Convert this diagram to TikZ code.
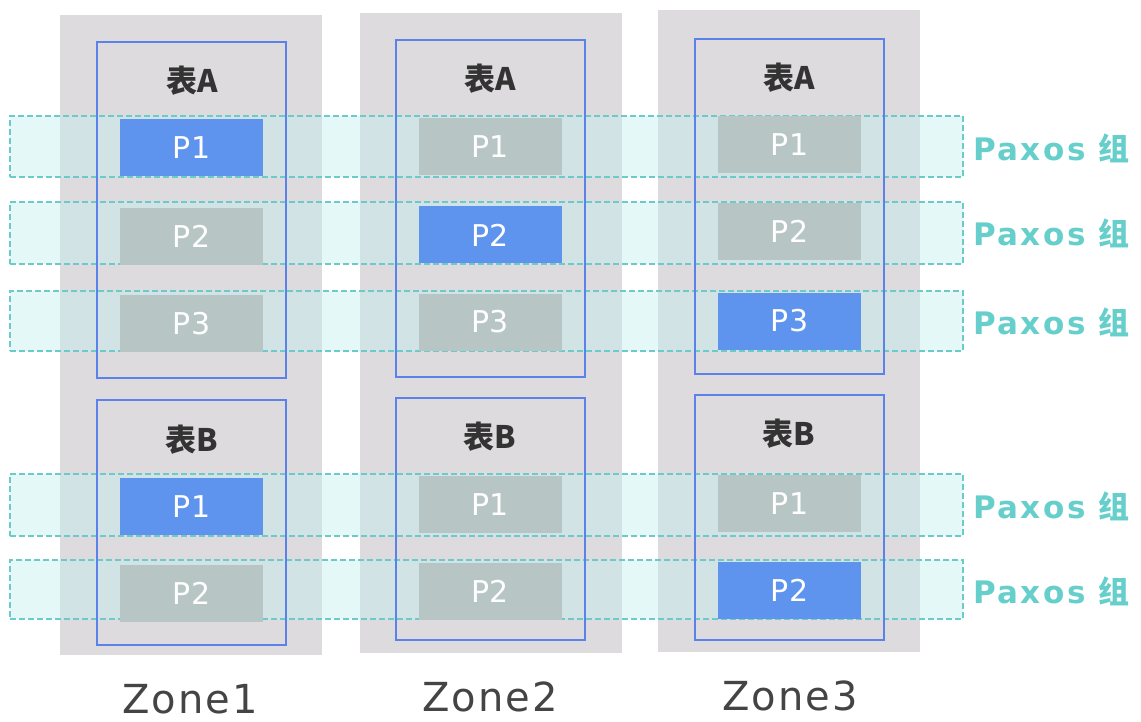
\documentclass[tikz,border=0pt]{standalone}
\usepackage{fontspec}
\setmainfont{DejaVu Sans}
\newfontfamily\cjk{Noto Sans CJK SC}
\newfontfamily\zonefont{DejaVu Sans}[LetterSpace=5]
\newfontfamily\paxfont{DejaVu Sans}[LetterSpace=8]
\newfontfamily\cjkpax{Noto Sans CJK SC}[LetterSpace=8]
\definecolor{colgray}{HTML}{DDDBDD}
\definecolor{tblue}{HTML}{5B82EB}
\definecolor{pgray}{HTML}{B7C6C5}
\definecolor{pblue}{HTML}{5E94EE}
\definecolor{bandfill}{HTML}{BFEFEF}
\definecolor{bandline}{HTML}{6BCBCB}
\definecolor{paxos}{HTML}{66CFCB}
\definecolor{zonetext}{HTML}{444444}
\definecolor{tbltext}{HTML}{333333}
\tikzset{
  zonecol/.style={fill=colgray, draw=none, minimum width=262pt, inner sep=0pt},
  tblbox/.style={draw=tblue, line width=1.8pt, minimum width=189pt, inner sep=0pt},
  pbox/.style={minimum width=143pt, minimum height=57pt, inner sep=0pt, text=white,
     font=\fontsize{30}{34}\selectfont},
  pg/.style={pbox, fill=pgray},
  pb/.style={pbox, fill=pblue},
  tbllabel/.style={text=tbltext, font=\fontsize{31}{34}\selectfont\bfseries\cjk, inner sep=0pt},
  band/.style={fill=bandfill, fill opacity=0.4, draw=bandline, draw opacity=1, line width=1.2pt,
     dash pattern=on 6pt off 3pt, minimum width=953pt, inner sep=0pt},
  paxlabel/.style={anchor=west, text=paxos, inner sep=0pt, font=\fontsize{31}{34}\selectfont\bfseries\paxfont},
  zonelabel/.style={text=zonetext, inner sep=0pt, font=\fontsize{40}{44}\selectfont\zonefont}
}
\begin{document}
\begin{tikzpicture}[x=1pt, y=-1pt]
\useasboundingbox[fill=white] (0,0) rectangle (1141,722);
% zone columns
\node[zonecol, minimum height=640pt] (z1) at (191,335) {};
\node[zonecol, minimum height=640pt] (z2) at (491,333) {};
\node[zonecol, minimum height=642pt] (z3) at (789,331) {};
% paxos bands
\node[band, minimum height=61pt] (g1) at (486.5,146.5) {};
\node[band, minimum height=62pt] (g2) at (486.5,233) {};
\node[band, minimum height=60pt] (g3) at (486.5,321) {};
\node[band, minimum height=62pt] (g4) at (486.5,505) {};
\node[band, minimum height=59pt] (g5) at (486.5,589.5) {};
% table boxes
\node[tblbox, minimum height=336pt] (z1a) at (191.5,210) {};
\node[tblbox, minimum height=245pt] (z1b) at (191.5,522.5) {};
\node[tblbox, minimum height=337pt] (z2a) at (490.5,208.5) {};
\node[tblbox, minimum height=242pt] (z2b) at (490.5,519) {};
\node[tblbox, minimum height=335pt] (z3a) at (789.5,206.5) {};
\node[tblbox, minimum height=245pt] (z3b) at (789.5,517.5) {};
% table labels
\node[tbllabel] (l1a) at (192,81) {表A};
\node[tbllabel] (l1b) at (192,440) {表B};
\node[tbllabel] (l2a) at (490,79) {表A};
\node[tbllabel] (l2b) at (490,437) {表B};
\node[tbllabel] (l3a) at (789,78) {表A};
\node[tbllabel] (l3b) at (789,434) {表B};
% partitions zone1
\node[pb] (p1a1) at (191.5,148) {P1};
\node[pg] (p1a2) at (191.5,236.5) {P2};
\node[pg] (p1a3) at (191.5,323.5) {P3};
\node[pb] (p1b1) at (191.5,506.5) {P1};
\node[pg] (p1b2) at (191.5,593.5) {P2};
% zone2
\node[pg] (p2a1) at (490,147) {P1};
\node[pb] (p2a2) at (490,235) {P2};
\node[pg] (p2a3) at (490,322) {P3};
\node[pg] (p2b1) at (490,504.5) {P1};
\node[pg] (p2b2) at (490,591) {P2};
% zone3
\node[pg] (p3a1) at (789.5,145) {P1};
\node[pg] (p3a2) at (789.5,231.5) {P2};
\node[pb] (p3a3) at (789.5,321) {P3};
\node[pg] (p3b1) at (789.5,503.5) {P1};
\node[pb] (p3b2) at (789.5,590) {P2};
% paxos labels
\node[paxlabel] (t1) at (973,148) {Paxos {\bfseries\cjkpax 组}};
\node[paxlabel] (t2) at (973,233) {Paxos {\bfseries\cjkpax 组}};
\node[paxlabel] (t3) at (973,322) {Paxos {\bfseries\cjkpax 组}};
\node[paxlabel] (t4) at (973,506) {Paxos {\bfseries\cjkpax 组}};
\node[paxlabel] (t5) at (973,591) {Paxos {\bfseries\cjkpax 组}};
% zone labels
\node[zonelabel] (n1) at (190,699) {Zone1};
\node[zonelabel] (n2) at (490,697) {Zone2};
\node[zonelabel] (n3) at (790,696) {Zone3};
\end{tikzpicture}
\end{document}
